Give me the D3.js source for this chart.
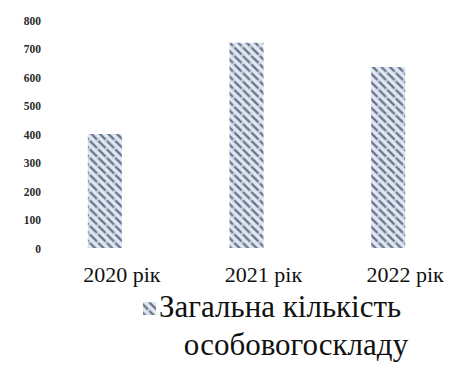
<!DOCTYPE html>
<html><head><meta charset="utf-8">
<script src="https://cdn.jsdelivr.net/npm/d3@7/dist/d3.min.js"></script>
<style>html,body{margin:0;padding:0;background:#fff;}svg{display:block;}</style>
</head><body>
<script>
const categories = ["2020 рік", "2021 рік", "2022 рік"];
const values = [400, 720, 635];
const yTicks = [0, 100, 200, 300, 400, 500, 600, 700, 800];
const seriesName = ["Загальна кількість", "особовогоскладу"];

const FONT = "Liberation Serif";
const W = 456, H = 374;
const svg = d3.select("body").append("svg").attr("width", W).attr("height", H)
  .attr("font-family", FONT);

const defs = svg.append("defs");
const pat = defs.append("pattern").attr("id", "weave").attr("patternUnits", "userSpaceOnUse")
  .attr("width", 8.5).attr("height", 8.5);
pat.append("rect").attr("width", 8.5).attr("height", 8.5).attr("fill", "#e2e8f1");
pat.append("path").attr("d", "M-2,-2 L10.5,10.5 M-2,6.5 L2,10.5 M6.5,-2 L10.5,2")
  .attr("stroke", "#66778f").attr("stroke-width", 2.4);
pat.append("circle").attr("cx", 4.25).attr("cy", 4.25).attr("r", 1.1).attr("fill", "#e2e8f1");

const x = d3.scaleBand().domain(categories).range([34, 459]).paddingInner(0.76).paddingOuter(0.38);
const y = d3.scaleLinear().domain([0, 800]).range([248, 20]);

const yAxis = d3.axisLeft(y).tickValues(yTicks).tickSize(0).tickPadding(0);
const gy = svg.append("g").attr("transform", "translate(41,0)").call(yAxis);
gy.attr("font-family", FONT).attr("font-size", 11.5);
gy.select(".domain").remove();
gy.selectAll("text").attr("fill", "#2a2a2a").attr("font-weight", "bold").attr("dy", "0.35em");

svg.append("g").selectAll("rect").data(values).join("rect")
  .attr("x", (d, i) => x(categories[i]))
  .attr("width", x.bandwidth())
  .attr("y", d => y(d))
  .attr("height", d => y(0) - y(d))
  .attr("fill", "url(#weave)");

const xAxis = d3.axisBottom(x).tickSize(0).tickPadding(0);
const gx = svg.append("g").attr("transform", "translate(17,266)").call(xAxis);
gx.attr("font-family", FONT).attr("font-size", 22);
gx.select(".domain").remove();
gx.selectAll("text").attr("fill", "#111").attr("dy", "0.71em");

const lg = svg.append("g").attr("font-family", FONT).attr("font-size", 31).attr("fill", "#111");
lg.append("rect").attr("x", 143).attr("y", 302).attr("width", 13).attr("height", 13).attr("fill", "url(#weave)");
lg.append("text").attr("x", 159).attr("y", 317).text(seriesName[0]);
lg.append("text").attr("x", 296).attr("y", 355).attr("text-anchor", "middle").text(seriesName[1]);
</script>
</body></html>
